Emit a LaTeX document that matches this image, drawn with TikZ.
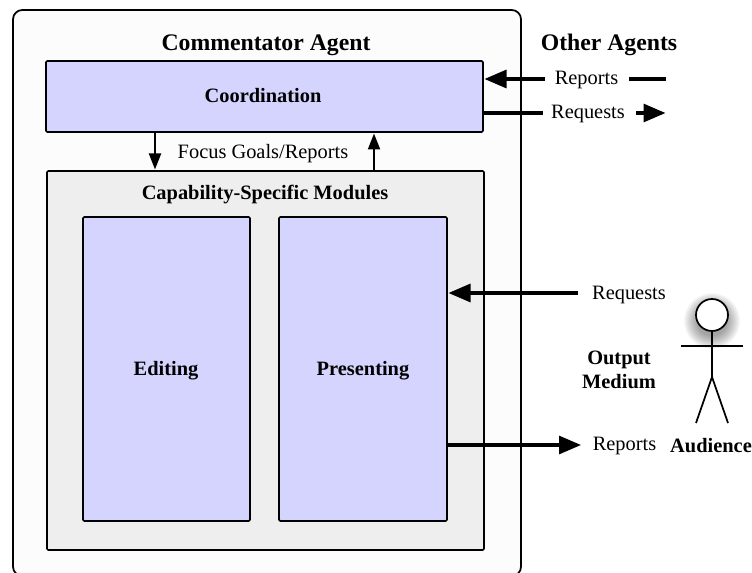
\documentclass[tikz,border=0pt]{standalone}
\usepackage{fontspec}
\setmainfont{Liberation Serif}
\usetikzlibrary{arrows.meta}
\definecolor{boxblue}{RGB}{212,212,255}
\definecolor{outerfill}{RGB}{252,252,252}
\definecolor{modfill}{RGB}{238,238,238}
\tikzset{
  x=0.75pt,y=-0.75pt,
  box/.style={draw=black,line width=1.2pt,rounded corners=1pt,anchor=north west,inner sep=0pt,outer sep=0pt},
  bluebox/.style={box,fill=boxblue},
  lab/.style={font=\fontsize{15.3pt}{18pt}\selectfont,inner sep=0pt},
  blab/.style={font=\fontsize{15.3pt}{18pt}\selectfont\bfseries,inner sep=0pt,align=center},
  title/.style={font=\fontsize{17.8pt}{20pt}\selectfont\bfseries,inner sep=0pt},
  thin arrow/.style={line width=1.5pt,-{Triangle[length=12pt,width=9pt]}},
  thick arrow/.style={line width=2.3pt,-{Triangle[length=16.5pt,width=13.5pt]}},
  thick line/.style={line width=2.3pt},
  stick/.style={line width=1.3pt},
}
\begin{document}
\begin{tikzpicture}
\useasboundingbox (0,0) rectangle (752,573);
\begin{scope}
\clip (0,0) rectangle (752,573);
\node[box,fill=outerfill,line width=1.3pt,rounded corners=7pt,minimum width=508pt*0.75,minimum height=566pt*0.75] (outer) at (13,10) {};
\end{scope}
\node[title] (ttl) at (266,45) {Commentator Agent};
\node[title] (oth) at (609,45) {Other Agents};
\node[bluebox,minimum width=437pt*0.75,minimum height=71pt*0.75] (coord) at (46,61) {};
\node[blab] at (263,96) {Coordination};
\node[box,fill=modfill,minimum width=437pt*0.75,minimum height=379pt*0.75] (mods) at (47,171) {};
\node[blab] (modt) at (265,194.5) {Capability-Specific Modules};
\node[bluebox,minimum width=167pt*0.75,minimum height=304pt*0.75] (edit) at (83,217) {};
\node[blab] at (166,370.5) {Editing};
\node[bluebox,minimum width=168pt*0.75,minimum height=304pt*0.75] (pres) at (279,217) {};
\node[blab] at (363,370.5) {Presenting};
\node[lab] (fg) at (263,154) {Focus Goals/Reports};
% coordination links
\coordinate (c1) at (155,132);
\coordinate (m1) at (155,169.5);
\coordinate (m2) at (374,171);
\coordinate (c2) at (374,133.5);
\draw[thin arrow] (c1) -- (m1);
\draw[thin arrow] (m2) -- (c2);
% other agents
\node[lab] (rep1) at (586.5,80) {Reports};
\node[lab] (req1) at (588,114) {Requests};
\coordinate (a1) at (545,79);
\coordinate (a2) at (484.5,79);
\draw[thick arrow] (a1) -- (a2);
\coordinate (a3) at (483,113);
\coordinate (a4) at (543,113);
\draw[thick line] (a3) -- (a4);
\coordinate (l1) at (629,79);
\coordinate (l2) at (665.5,79);
\draw[thick line] (l1) -- (l2);
\coordinate (l3) at (636,113);
\coordinate (l4) at (665.5,113);
\draw[thick arrow] (l3) -- (l4);
% presenting
\coordinate (p1) at (578,293);
\coordinate (p2) at (448.5,293);
\draw[thick arrow] (p1) -- (p2);
\coordinate (p3) at (446,445);
\coordinate (p4) at (581,445);
\draw[thick arrow] (p3) -- (p4);
\node[lab] (req2) at (629,295) {Requests};
\node[lab] (rep2) at (624.5,446) {Reports};
\node[blab] (om) at (619,370) {Output\\Medium};
\node[blab] (aud) at (711,446) {Audience};
% actor
\foreach \r in {28,27,...,15}{
  \fill[black,opacity=0.03] (712,321) circle[radius=\r];
}
\coordinate (neck) at (712,330);
\coordinate (hip) at (712,377);
\draw[stick] (neck) -- (hip);
\draw[stick] (681,346) -- (743,346);
\draw[stick] (696,423) -- (hip) -- (728,423);
\node[circle,draw=black,fill=white,line width=1.3pt,minimum size=32pt*0.75,inner sep=0pt,outer sep=0pt] (head) at (712,315) {};
\end{tikzpicture}
\end{document}
